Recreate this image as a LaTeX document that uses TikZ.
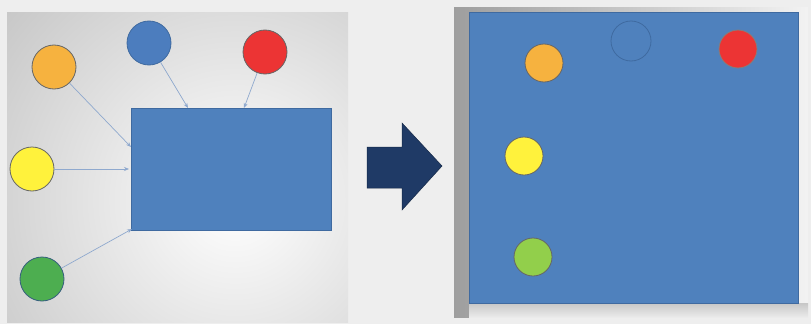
\documentclass[tikz,border=0pt]{standalone}
\usetikzlibrary{arrows.meta}
\definecolor{bgc}{HTML}{EEEEEE}
\definecolor{boxblue}{HTML}{4F81BD}
\definecolor{boxedge}{HTML}{3F6AA0}
\definecolor{lnk}{HTML}{8FA9CE}
\definecolor{navy}{HTML}{1F3A66}
\definecolor{corange}{HTML}{F6B23F}
\definecolor{cblue}{HTML}{4C7DBE}
\definecolor{cred}{HTML}{EC3434}
\definecolor{cyellow}{HTML}{FFF23C}
\definecolor{cgreen}{HTML}{4DAE50}
\definecolor{clime}{HTML}{92CF4B}
\definecolor{gedge}{HTML}{355E7E}
\tikzset{
  ball/.style={circle, inner sep=0pt, minimum size=#1, draw=black!60, line width=0.8pt},
  ball/.default=44pt,
  link/.style={draw=lnk, line width=0.7pt, -{Stealth[length=5pt,width=4pt]}},
  panelbox/.style={fill=boxblue, draw=boxedge, line width=0.6pt},
}
\begin{document}
\begin{tikzpicture}[x=1pt,y=-1pt]
\useasboundingbox (0,0) rectangle (811,324);
\fill[bgc] (0,0) rectangle (811,324);
% left panel background
\begin{scope}
\clip (7,12) rectangle (348,322);
\shade[inner color=white, outer color=black!38] (235,200) circle (520);
\end{scope}
% left rectangle
\node[panelbox, minimum width=200pt, minimum height=122pt, inner sep=0pt, anchor=north west] (box) at (131,108) {};
% circles left
\node[ball, fill=corange] (o) at (54,67) {};
\node[ball, fill=cblue, draw=boxedge] (b) at (149,43) {};
\node[ball, fill=cred] (r) at (265,52) {};
\node[ball, fill=cyellow] (y) at (32,169) {};
\node[ball, fill=cgreen, draw=gedge] (g) at (42,279) {};
% targets
\coordinate (to) at (131,147);
\coordinate (tb) at (188,108);
\coordinate (tr) at (244,108);
\coordinate (ty) at (129,169);
\coordinate (tg) at (132,229);
\draw[link] (o) -- (to);
\draw[link] (b) -- (tb);
\draw[link] (r) -- (tr);
\draw[link] (y) -- (ty);
\draw[link] (g) -- (tg);
% big arrow
\fill[navy, draw=navy!70!black, line width=0.5pt] (367,147) -- (402,147) -- (402,123) -- (442,166) -- (402,210) -- (402,188) -- (367,188) -- cycle;
% right panel frame
\shade[left color=black!38, right color=black!5] (454,7) rectangle (808,317);
\shade[top color=black!22, bottom color=black!8] (469,303) rectangle (808,317);
% right box
\node[panelbox, minimum width=329pt, minimum height=291pt, inner sep=0pt, anchor=north west] (big) at (469,12) {};
\node[ball=40pt, draw=boxedge] (e2) at (631,41) {};
\node[ball=38pt, fill=corange] (o2) at (544,63) {};
\node[ball=38pt, fill=cred, draw=black!50] (r2) at (738,49) {};
\node[ball=38pt, fill=cyellow] (y2) at (524,156) {};
\node[ball=38pt, fill=clime] (g2) at (533,257) {};
\end{tikzpicture}
\end{document}
